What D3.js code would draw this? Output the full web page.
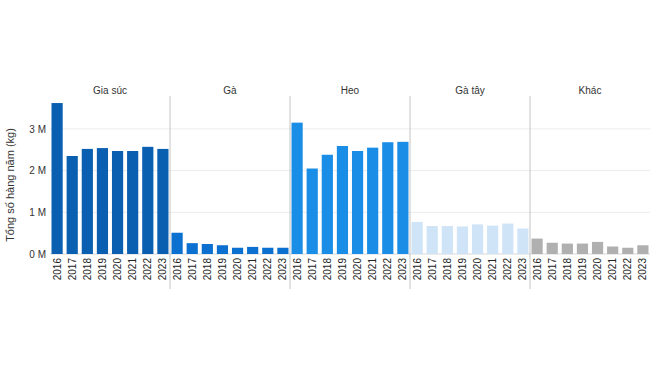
<!DOCTYPE html>
<html>
<head>
<meta charset="utf-8">
<script src="https://cdn.jsdelivr.net/npm/d3@7"></script>
<style>
  body{margin:0;background:#fff;font-family:"Liberation Sans",Arial,sans-serif;}
  svg text{fill:#333;}
</style>
</head>
<body>
<div id="chart"></div>
<script>
const groups = ["Gia súc","Gà","Heo","Gà tây","Khác"];
const years = ["2016","2017","2018","2019","2020","2021","2022","2023"];
const giaSuc = [3.62,2.35,2.52,2.54,2.47,2.47,2.57,2.52];
const ga     = [0.51,0.26,0.24,0.21,0.15,0.17,0.15,0.15];
const heo    = [3.15,2.05,2.38,2.59,2.47,2.55,2.68,2.69];
const gaTay  = [0.77,0.67,0.67,0.66,0.71,0.68,0.73,0.61];
const khac   = [0.37,0.27,0.25,0.25,0.29,0.18,0.15,0.21];
const yTicks = [0,1,2,3];
const groupColors = ["#0a5fb1","#0b70d0","#1a8de6","#cfe4f6","#b0b0b0"];

const series = [giaSuc,ga,heo,gaTay,khac];
const rows = [];
groups.forEach((g,i)=>{
  years.forEach((y,j)=>rows.push({group:g,year:y,value:series[i][j]}));
});

const W = 650, H = 366;
const m = {left:50,right:0,top:97,bottom:112};
const svg = d3.select("#chart").append("svg")
  .attr("width",W).attr("height",H);

const x0 = d3.scaleBand().domain(groups).range([m.left,W-m.right]).padding(0);
const x1 = d3.scaleBand().domain(years).range([0,x0.bandwidth()]).paddingInner(0.26).paddingOuter(0.1);
const y = d3.scaleLinear().domain([0,3.6]).range([H-m.bottom,H-m.bottom-3.6*41.7]);
const color = d3.scaleOrdinal().domain(groups).range(groupColors);

// grid
svg.append("g").selectAll("line")
  .data(yTicks).enter().append("line")
  .attr("x1",m.left).attr("x2",W-m.right)
  .attr("y1",d=>y(d)).attr("y2",d=>y(d))
  .attr("stroke",d=>d===0?"#d8d8d8":"#ececec").attr("stroke-width",1);

// y axis
const yAxis = svg.append("g")
  .attr("transform","translate("+m.left+",0)")
  .call(d3.axisLeft(y).tickValues(yTicks).tickSize(0).tickPadding(4).tickFormat(d=>d+" M"));
yAxis.select(".domain").remove();
yAxis.selectAll("text").style("font-size","10px").style("fill","#333");

svg.append("text")
  .attr("transform","translate(14,185) rotate(-90)")
  .attr("text-anchor","middle")
  .style("font-size","11px")
  .text("Tổng số hàng năm (kg)");

// panels
const panel = svg.selectAll(".panel")
  .data(groups).enter().append("g")
  .attr("class","panel")
  .attr("transform",d=>"translate("+x0(d)+",0)");

panel.append("text")
  .attr("x",x0.bandwidth()/2).attr("y",94)
  .attr("text-anchor","middle")
  .style("font-size","10px")
  .text(d=>d);

panel.filter((d,i)=>i>0).append("line")
  .attr("x1",0).attr("x2",0)
  .attr("y1",96).attr("y2",289)
  .attr("stroke","#c4c4c4").attr("stroke-width",1);

panel.selectAll("rect")
  .data(g=>rows.filter(r=>r.group===g))
  .enter().append("rect")
  .attr("x",d=>x1(d.year))
  .attr("width",x1.bandwidth())
  .attr("y",d=>y(d.value))
  .attr("height",d=>y(0)-y(d.value))
  .attr("fill",d=>color(d.group));

panel.each(function(){
  const ax = d3.select(this).append("g")
    .attr("transform","translate(0,"+y(0)+")")
    .call(d3.axisBottom(x1).tickSize(0).tickPadding(0));
  ax.select(".domain").remove();
  ax.selectAll("text")
    .attr("transform","rotate(-90)")
    .attr("x",-4).attr("y",0).attr("dy","0.35em")
    .attr("text-anchor","end")
    .style("font-size","10px").style("fill","#222");
});
</script>
</body>
</html>
